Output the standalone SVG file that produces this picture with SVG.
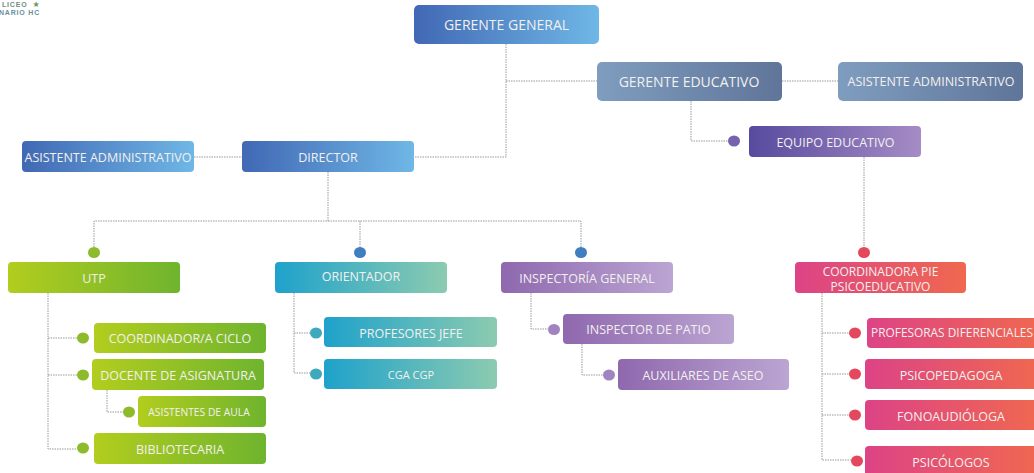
<svg xmlns="http://www.w3.org/2000/svg" width="1034" height="473" viewBox="0 0 1034 473">
<defs>
<linearGradient id="gBlue"><stop offset="0" stop-color="#4168b4"/><stop offset="1" stop-color="#6fb7e6"/></linearGradient>
<linearGradient id="gSlate"><stop offset="0" stop-color="#7f9dbf"/><stop offset="1" stop-color="#5f7599"/></linearGradient>
<linearGradient id="gViolet"><stop offset="0" stop-color="#574a9e"/><stop offset="1" stop-color="#a68cc6"/></linearGradient>
<linearGradient id="gGreen"><stop offset="0" stop-color="#b2cd1e"/><stop offset="1" stop-color="#6fb42e"/></linearGradient>
<linearGradient id="gTeal"><stop offset="0" stop-color="#1ea2cb"/><stop offset="1" stop-color="#8ccbb0"/></linearGradient>
<linearGradient id="gPurple"><stop offset="0" stop-color="#8f68ae"/><stop offset="1" stop-color="#bba5d2"/></linearGradient>
<linearGradient id="gPink"><stop offset="0" stop-color="#dd4386"/><stop offset="1" stop-color="#f0684f"/></linearGradient>
</defs>
<style>
text{font-family:"Open Sans","Noto Sans","Liberation Sans",sans-serif;fill:#f2f0ee;text-anchor:middle}
.xl{font-size:14px}
.l{font-size:12.5px}
.m{font-size:12px}
.n{font-size:11.900px}
.s{font-size:10.300px}
.c{fill:none;stroke:#999;stroke-width:1;stroke-dasharray:1.500 1}
.bl{fill:url(#gBlue)}.sl{fill:url(#gSlate)}.vi{fill:url(#gViolet)}.gr{fill:url(#gGreen)}.te{fill:url(#gTeal)}.pu{fill:url(#gPurple)}.pk{fill:url(#gPink)}
.dg{fill:#8dbb2c}.db{fill:#3f7fc0}.dt{fill:#3ea8bd}.dp{fill:#a283c2}.dv{fill:#7762ae}.dk{fill:#e3485f}
.lg{font-family:"Liberation Sans",sans-serif;font-weight:700;text-anchor:start;font-size:7px;letter-spacing:.8px}
</style>
<g id="connectors">
<path class="c" d="M506 44V157H414M506 81H597M782 81H838"/>
<path class="c" d="M691 101V141H728"/>
<path class="c" d="M864 157V247"/>
<path class="c" d="M194 157H242"/>
<path class="c" d="M328 172V221M94 247V221H581V247M360 221V247"/>
<path class="c" d="M48 293V449H77M48 338H77M48 375H77M107 390V412H123"/>
<path class="c" d="M294 293V373H310M294 333H310"/>
<path class="c" d="M531 293V329H548M582 344V375H603"/>
<path class="c" d="M822 293V460H851M822 333H849M822 374H849M822 415H849"/>
</g>
<g id="logo"><text class="lg" x="2" y="7" style="fill:#6f8f80">LICEO</text><text x="36" y="6.500" style="fill:#5f9a5a;font-size:8px;font-family:'DejaVu Sans',sans-serif">★</text><text class="lg" x="-1" y="15" style="fill:#6a8fa0">NARIO HC</text></g>
<g id="gerente-general"><rect class="bl" x="414" y="5" width="185" height="39" rx="5"/><text class="xl" x="506.500" y="30">GERENTE GENERAL</text></g>
<g id="gerente-educativo"><rect class="sl" x="597" y="62" width="185" height="39" rx="5"/><text class="xl" x="689" y="87">GERENTE EDUCATIVO</text></g>
<g id="asistente-2"><rect class="sl" x="838" y="62" width="185" height="39" rx="5"/><text class="l" x="931" y="86">ASISTENTE ADMINISTRATIVO</text></g>
<g id="equipo"><ellipse class="dv" cx="734" cy="141" rx="6" ry="5.500"/><rect class="vi" x="749" y="126" width="172" height="31" rx="4"/><text class="l" x="835.500" y="147">EQUIPO EDUCATIVO</text></g>
<g id="asistente-1"><rect class="bl" x="22" y="141" width="172" height="31" rx="4"/><text class="l" x="108" y="162">ASISTENTE ADMINISTRATIVO</text></g>
<g id="director"><rect class="bl" x="242" y="141" width="172" height="31" rx="4"/><text class="l" x="328" y="162">DIRECTOR</text></g>
<g id="utp"><ellipse class="dg" cx="94" cy="252.500" rx="6" ry="5.500"/><rect class="gr" x="8" y="262" width="172" height="31" rx="4"/><text class="l" x="94" y="283">UTP</text></g>
<g id="coordinador"><ellipse class="dg" cx="83" cy="338" rx="6" ry="5.500"/><rect class="gr" x="94" y="323" width="172" height="30" rx="4"/><text class="l" x="180" y="343">COORDINADOR/A CICLO</text></g>
<g id="docente"><ellipse class="dg" cx="83" cy="375" rx="6" ry="5.500"/><rect class="gr" x="92" y="359" width="172" height="31" rx="4"/><text class="l" x="178" y="380">DOCENTE DE ASIGNATURA</text></g>
<g id="asistentes-aula"><ellipse class="dg" cx="129" cy="412" rx="6" ry="5.500"/><rect class="gr" x="138" y="396" width="128" height="31" rx="4"/><text class="s" x="199" y="416">ASISTENTES DE AULA</text></g>
<g id="bibliotecaria"><ellipse class="dg" cx="83" cy="448" rx="6" ry="5.500"/><rect class="gr" x="94" y="433" width="172" height="31" rx="4"/><text class="l" x="180" y="454">BIBLIOTECARIA</text></g>
<g id="orientador"><ellipse class="db" cx="360" cy="252.500" rx="6" ry="5.500"/><rect class="te" x="275" y="262" width="172" height="31" rx="4"/><text class="l" x="361" y="281">ORIENTADOR</text></g>
<g id="profesores-jefe"><ellipse class="dt" cx="316" cy="333" rx="6" ry="5.500"/><rect class="te" x="324" y="317" width="173" height="30" rx="4"/><text class="l" x="411" y="338">PROFESORES JEFE</text></g>
<g id="cga"><ellipse class="dt" cx="316" cy="374" rx="6" ry="5.500"/><rect class="te" x="324" y="359" width="173" height="30" rx="4"/><text x="411" y="379" style="font-size:11px">CGA CGP</text></g>
<g id="inspectoria"><ellipse class="db" cx="581" cy="252.500" rx="6" ry="5.500"/><rect class="pu" x="501" y="262" width="172" height="31" rx="4"/><text class="l" x="587" y="283">INSPECTORÍA GENERAL</text></g>
<g id="inspector-patio"><ellipse class="dp" cx="554" cy="329.500" rx="6" ry="5.500"/><rect class="pu" x="563" y="314" width="171" height="30" rx="4"/><text class="l" x="648.500" y="334">INSPECTOR DE PATIO</text></g>
<g id="auxiliares"><ellipse class="dp" cx="609" cy="375" rx="6" ry="5.500"/><rect class="pu" x="618" y="359" width="171" height="31" rx="4"/><text class="l" x="703" y="380">AUXILIARES DE ASEO</text></g>
<g id="coordinadora"><ellipse class="dk" cx="864" cy="252.500" rx="6" ry="5.500"/><rect class="pk" x="795" y="262" width="171" height="31" rx="4"/><text class="m" x="880.500" y="276">COORDINADORA PIE</text><text class="m" x="880.500" y="291">PSICOEDUCATIVO</text></g>
<g id="profesoras"><ellipse class="dk" cx="855" cy="333" rx="6" ry="5.500"/><rect class="pk" x="867" y="318" width="175" height="30" rx="4"/><text class="n" x="952" y="337">PROFESORAS DIFERENCIALES</text></g>
<g id="psicopedagoga"><ellipse class="dk" cx="855" cy="374" rx="6" ry="5.500"/><rect class="pk" x="865" y="359" width="175" height="30" rx="4"/><text class="l" x="951" y="380">PSICOPEDAGOGA</text></g>
<g id="fonoaudiologa"><ellipse class="dk" cx="855" cy="415" rx="6" ry="5.500"/><rect class="pk" x="865" y="400" width="175" height="30" rx="4"/><text class="l" x="951" y="421">FONOAUDIÓLOGA</text></g>
<g id="psicologos"><ellipse class="dk" cx="857" cy="461" rx="6" ry="5.500"/><rect class="pk" x="865" y="446" width="175" height="34" rx="4"/><text class="l" x="951" y="467">PSICÓLOGOS</text></g>
</svg>
